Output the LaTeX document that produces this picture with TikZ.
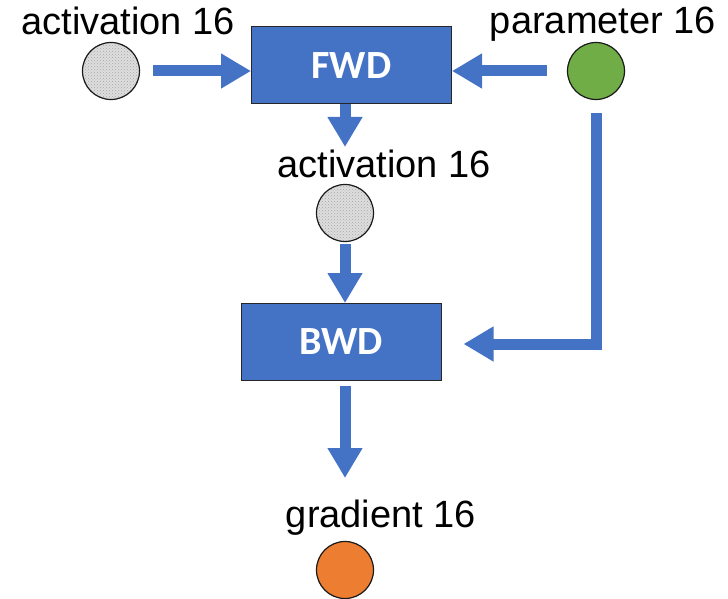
\documentclass[tikz,border=0pt]{standalone}
\usepackage{fontspec}
\setmainfont{Liberation Sans}
\newfontfamily\boxfont{Carlito}
\usetikzlibrary{arrows.meta,patterns}
\definecolor{flowblue}{HTML}{4472C4}
\definecolor{paramgreen}{HTML}{70AD47}
\definecolor{gradorange}{HTML}{ED7D31}
\begin{document}
\begin{tikzpicture}[x=1pt,y=-1pt,
  flow/.style={draw=flowblue, line width=11pt, line join=miter,
    -{Triangle[width=33pt,length=30pt]}},
  stage/.style={draw=black!85, line width=1pt, fill=flowblue,
    minimum width=200pt, minimum height=77pt, inner sep=0pt, text=white,
    font=\boxfont\bfseries\fontsize{40}{44}\selectfont},
  tensor/.style={circle, draw=black!90, line width=1.2pt,
    minimum size=57pt, inner sep=0pt},
  act/.style={tensor, preaction={fill=black!13},
    pattern=crosshatch dots, pattern color=black!35},
  tag/.style={anchor=base, inner sep=0pt, font=\fontsize{38}{44}\selectfont}]
\useasboundingbox (0,0) rectangle (728,599);

% stages
\node[stage] (fwd) at (351.5,65.5) {FWD};
\node[stage] (bwd) at (341,342) {BWD};

% tensors and their labels
\node[act] (ain) at (111,71) {};
\node[tag] (ainlab) at (128,35) {activation 16};
\node[tensor, fill=paramgreen] (par) at (596,71) {};
\node[tag] (parlab) at (603,34) {parameter 16};
\node[act] (amid) at (345,213) {};
\node[tag] (amidlab) at (384,177) {activation 16};
\node[tensor, fill=gradorange] (grad) at (345,570) {};
\node[tag] (gradlab) at (381,527) {gradient 16};

% connector end points
\coordinate (fwdtip) at (345,147);
\coordinate (bend) at (596,344);
\coordinate (gradtip) at (345,478);

% data flow
\draw[flow] ([xshift=13pt]ain.east) -- (fwd.west |- ain);
\draw[flow] ([xshift=-20pt]par.west) -- (fwd.east |- par);
\draw[flow] (amid |- fwd.south) -- (fwdtip);
\draw[flow] ([yshift=-2pt]amid.south) -- (amid |- bwd.north);
\draw[flow] ([yshift=-13pt]par.south) -- (bend) -- ([xshift=22pt]bwd.east |- bend);
\draw[flow] ([yshift=-5pt]amid |- bwd.south) -- (gradtip);
\end{tikzpicture}
\end{document}
